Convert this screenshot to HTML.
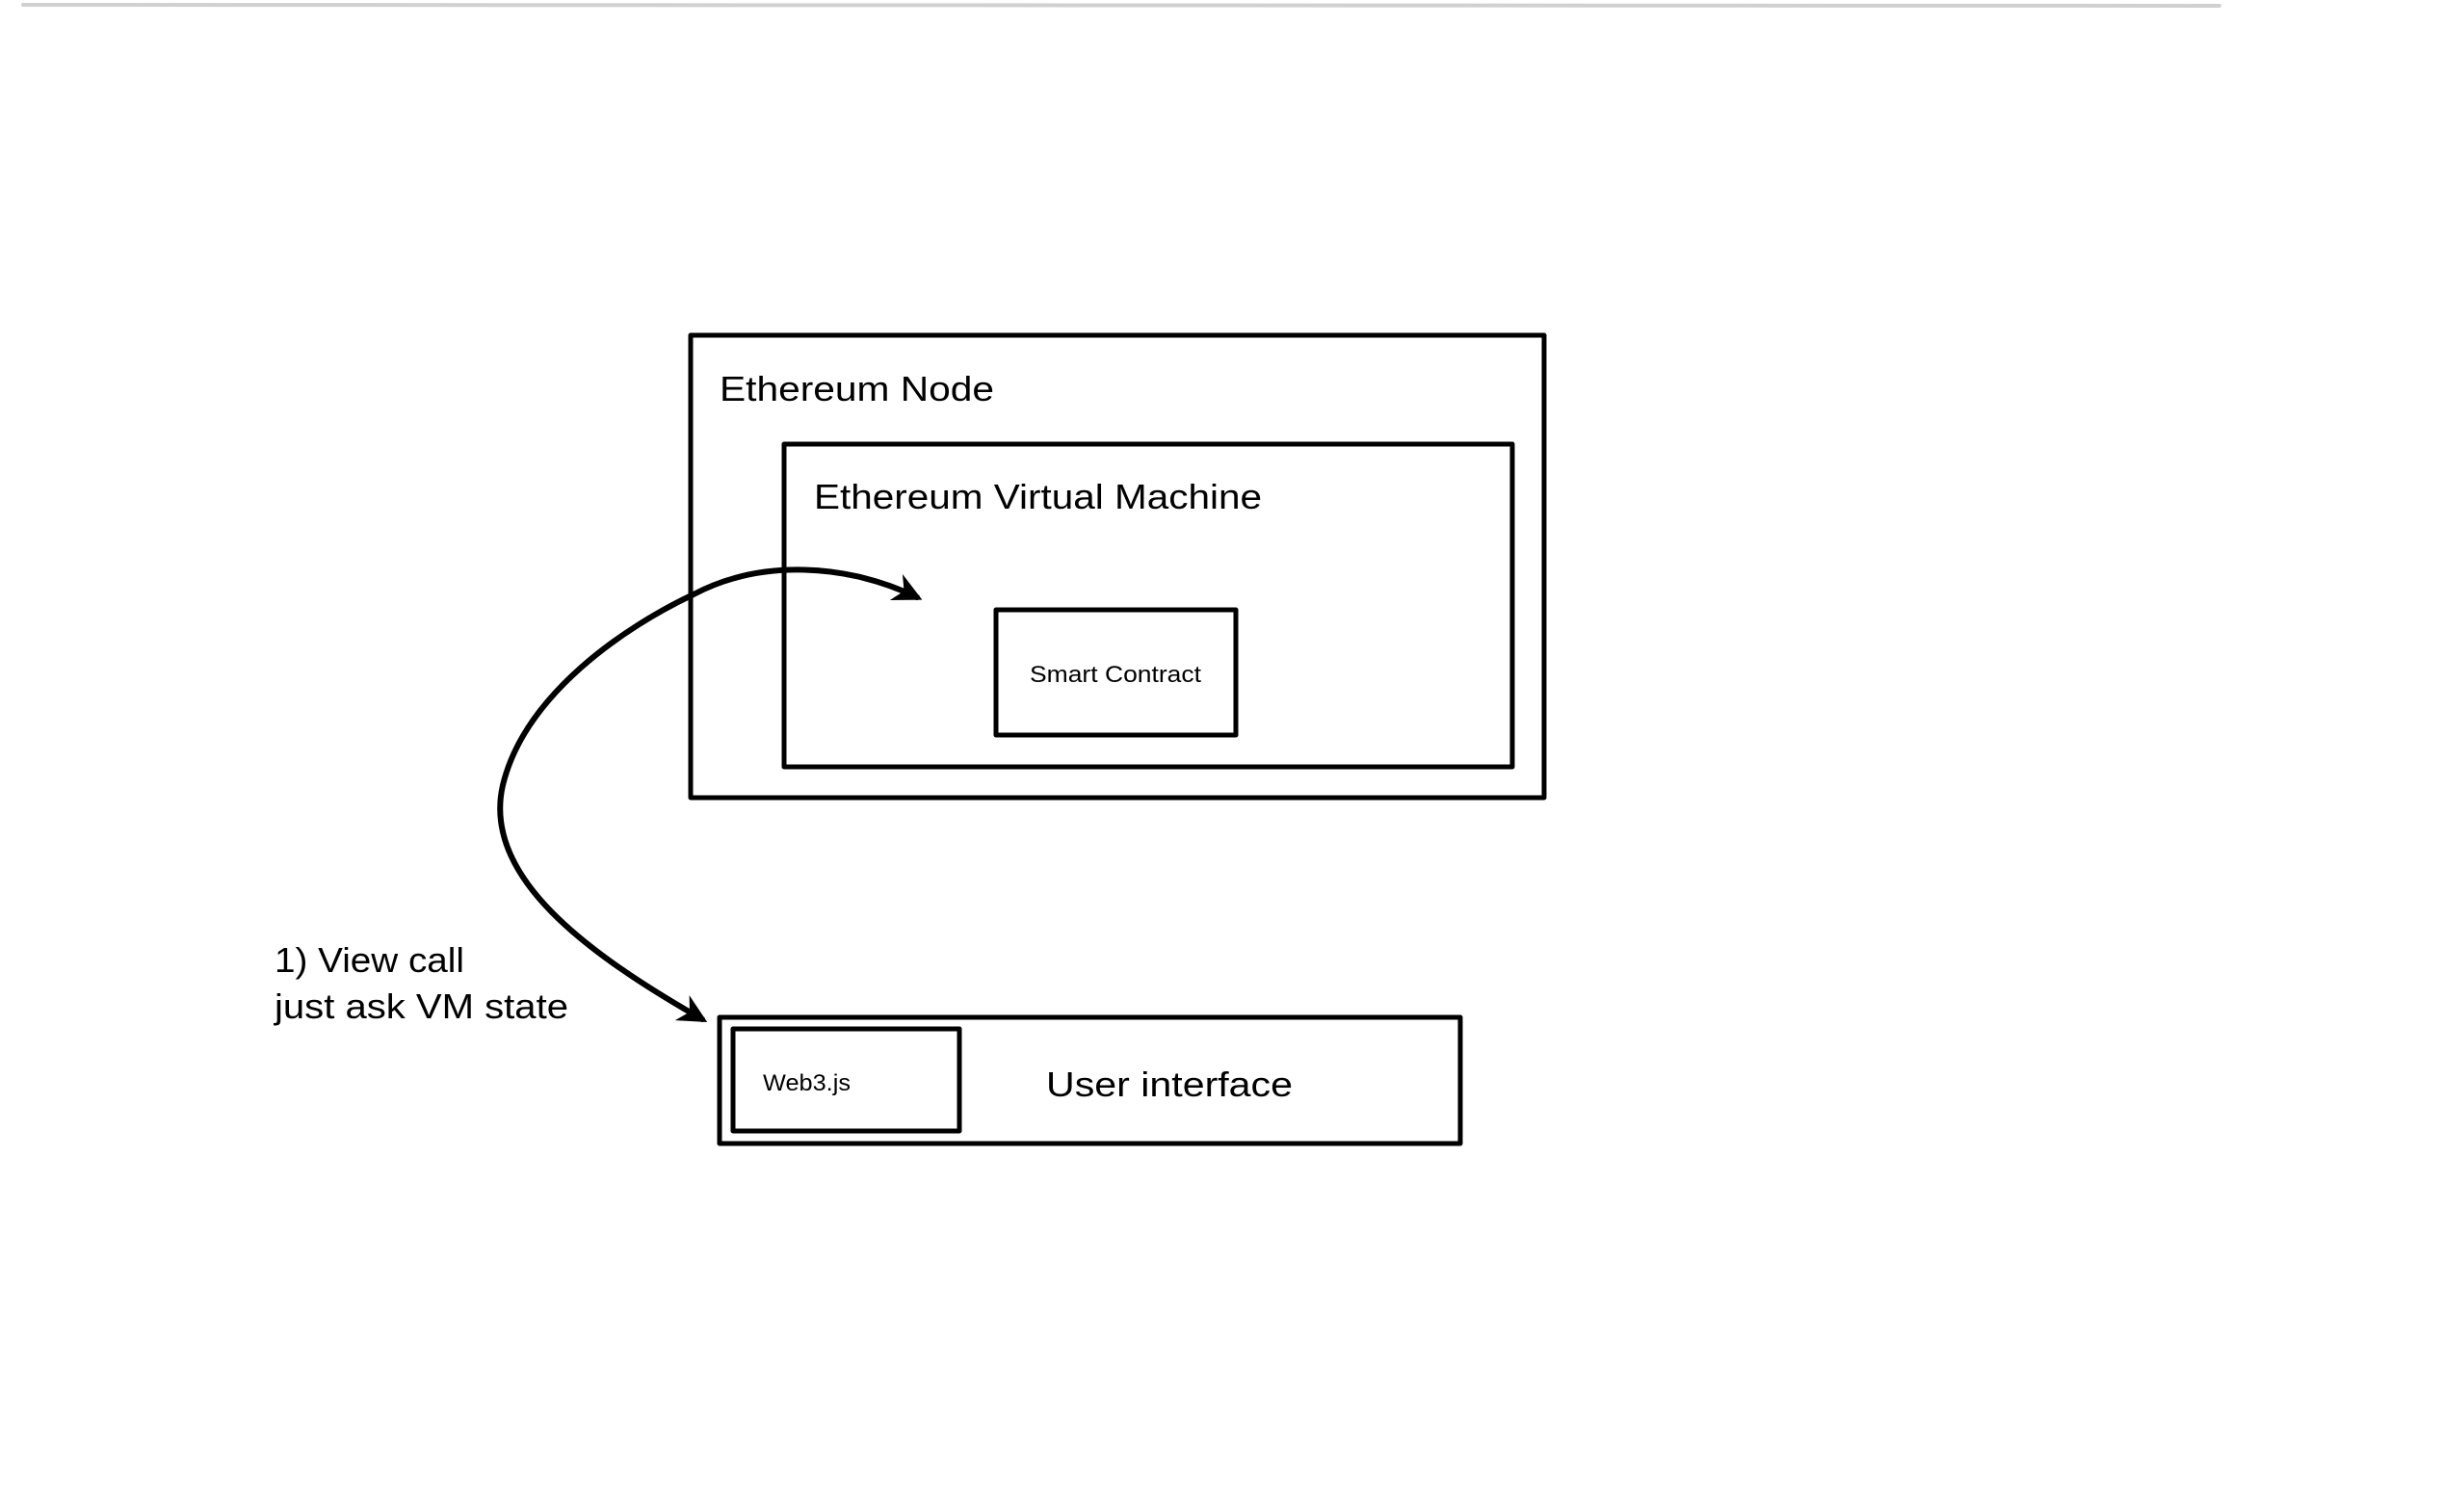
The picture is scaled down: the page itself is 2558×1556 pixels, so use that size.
<!DOCTYPE html>
<html><head><meta charset="utf-8"><style>
html,body{margin:0;padding:0;background:#fff;width:2558px;height:1556px;overflow:hidden}
svg{display:block}
text{font-family:"Liberation Sans",sans-serif;fill:#000}
</style></head><body>
<svg width="2558" height="1556" viewBox="0 0 2558 1556" xmlns="http://www.w3.org/2000/svg">
<defs>
<marker id="ah" viewBox="0 0 10 10" refX="8" refY="5" markerWidth="5" markerHeight="5" orient="auto-start-reverse" markerUnits="strokeWidth">
<path d="M0,0 L10,5 L0,10 L3,5 Z" fill="#000"/>
</marker>
</defs>
<line x1="24" y1="5" x2="2304" y2="6" stroke="#d0d0d0" stroke-width="4" stroke-linecap="round"/>
<g fill="none" stroke="#000" stroke-width="5" stroke-linejoin="round">
<rect x="717" y="348" width="886" height="480"/>
<rect x="814" y="461" width="756" height="335"/>
<rect x="1034" y="633" width="249" height="130"/>
<rect x="747" y="1056" width="769" height="131"/>
<rect x="761" y="1068" width="235" height="106"/>
</g>
<path d="M729 1058 C 610 990, 500 910, 522 815 C 545 720, 650 650, 720 617 C 790 580, 880 585, 952 620" fill="none" stroke="#000" stroke-width="6" stroke-linecap="round" marker-start="url(#ah)" marker-end="url(#ah)"/>
<text x="747" y="416" font-size="36" textLength="285" lengthAdjust="spacingAndGlyphs">Ethereum Node</text>
<text x="845" y="528" font-size="36" textLength="465" lengthAdjust="spacingAndGlyphs">Ethereum Virtual Machine</text>
<text x="1069" y="708" font-size="24" textLength="178" lengthAdjust="spacingAndGlyphs">Smart Contract</text>
<text x="792" y="1132" font-size="24" textLength="91" lengthAdjust="spacingAndGlyphs">Web3.js</text>
<text x="1086" y="1138" font-size="36" textLength="256" lengthAdjust="spacingAndGlyphs">User interface</text>
<text x="285" y="1009" font-size="36" textLength="197" lengthAdjust="spacingAndGlyphs">1) View call</text>
<text x="285" y="1057" font-size="36" textLength="305" lengthAdjust="spacingAndGlyphs">just ask VM state</text>
</svg>
</body></html>
